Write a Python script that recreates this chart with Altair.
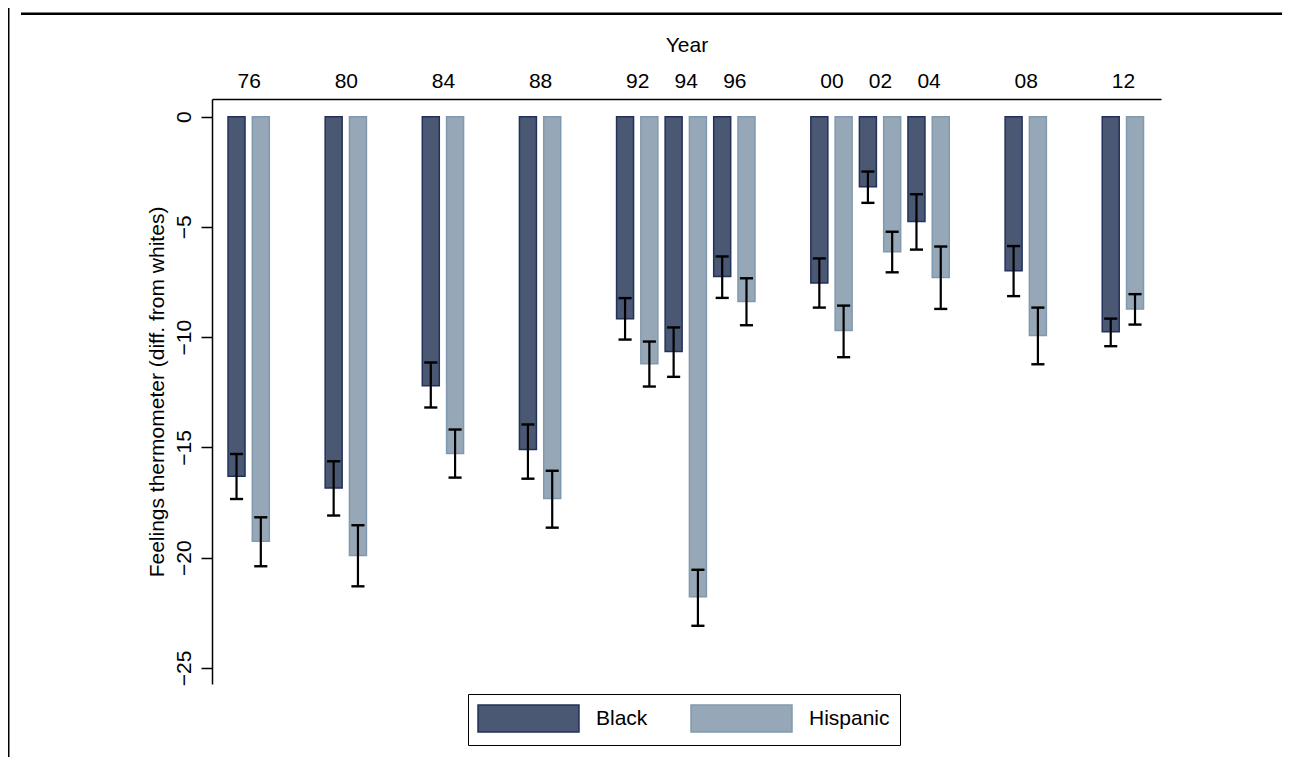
import altair as alt
import pandas as pd

years = [1976, 1980, 1984, 1988, 1992, 1994, 1996, 2000, 2002, 2004, 2008, 2012]
black_mean = [-16.31, -16.84, -12.20, -15.10, -9.17, -10.65, -7.25, -7.54, -3.18, -4.75, -6.99, -9.75]
black_hi = [-15.30, -15.63, -11.15, -13.96, -8.23, -9.56, -6.34, -6.43, -2.49, -3.52, -5.87, -9.16]
black_lo = [-17.34, -18.09, -13.19, -16.42, -10.11, -11.80, -8.22, -8.66, -3.91, -6.03, -8.14, -10.41]
hisp_mean = [-19.26, -19.90, -15.28, -17.32, -11.21, -21.77, -8.38, -9.70, -6.13, -7.30, -9.93, -8.72]
hisp_hi = [-18.17, -18.53, -14.19, -16.06, -10.20, -20.55, -7.33, -8.57, -5.22, -5.89, -8.66, -8.05]
hisp_lo = [-20.39, -21.30, -16.37, -18.64, -12.24, -23.09, -9.46, -10.91, -7.06, -8.72, -11.23, -9.43]
groups = ["Black", "Hispanic"]
y_ticks = [0, -5, -10, -15, -20, -25]

rows = []
for i, yr in enumerate(years):
    rows.append({"year": yr, "group": "Black", "mean": black_mean[i], "lo": black_lo[i], "hi": black_hi[i]})
    rows.append({"year": yr, "group": "Hispanic", "mean": hisp_mean[i], "lo": hisp_lo[i], "hi": hisp_hi[i]})
df = pd.DataFrame(rows)

FONT = "Liberation Sans"
W, H = 949, 585

xscale = alt.Scale(domain=[1974.49, 2013.57], nice=False, zero=False)
yscale = alt.Scale(domain=[-25.73, 0.8], nice=False, zero=False)

base = alt.Chart(df).transform_calculate(
    center="datum.year + (datum.group == 'Black' ? -0.5 : 0.5)"
).transform_calculate(
    xl="datum.center - 0.35", xr="datum.center + 0.35",
    cl="datum.center - 0.27", cr="datum.center + 0.27"
)

legend = alt.Legend(
    title=None, orient="none", legendX=256, legendY=595, direction="horizontal",
    symbolType="M-3.74,-1H3.74V1H-3.74Z", symbolSize=729, symbolStrokeWidth=1.5,
    symbolOffset=36, labelOffset=53, columnPadding=40, padding=10,
    strokeColor="black", fillColor="white", labelFont=FONT, labelFontSize=21,
    labelColor="black", labelBaseline="middle"
)

bars = base.mark_bar(strokeWidth=1.5).encode(
    x=alt.X("xl:Q", scale=xscale, axis=alt.Axis(
        orient="top", values=years, labelExpr="format(datum.value % 100, '02d')",
        title="Year", ticks=False, tickSize=0, grid=False, domainColor="black",
        domainWidth=1.5, labelFont=FONT, labelFontSize=21, labelColor="black",
        labelPadding=11.5, labelBaseline="alphabetic", labelOverlap=False,
        labelFlush=False, titleFont=FONT, titleFontSize=21, titleFontWeight="normal",
        titleColor="black", titleX=474.5, titleY=-48, titleBaseline="alphabetic",
        titleAlign="center")),
    x2="xr:Q",
    y=alt.Y("mean:Q", scale=yscale, axis=alt.Axis(
        values=y_ticks, title="Feelings thermometer (diff. from whites)",
        grid=False, tickSize=11, tickWidth=1.5, tickColor="black",
        domainColor="black", domainWidth=1.5, labelAngle=270, labelAlign="center",
        labelBaseline="alphabetic", labelPadding=11, labelFont=FONT,
        labelFontSize=21, labelColor="black", labelOverlap=False, labelFlush=False,
        titleFont=FONT, titleFontSize=21, titleFontWeight="normal",
        titleColor="black", titleAngle=270, titleX=-49, titleY=292.5,
        titleBaseline="alphabetic", titleAlign="center")),
    y2=alt.datum(0),
    fill=alt.Fill("group:N", scale=alt.Scale(domain=groups, range=["#4a5874", "#96a8b7"]), legend=legend),
    stroke=alt.Stroke("group:N", scale=alt.Scale(domain=groups, range=["#22315a", "#8099ae"]), legend=legend),
)

err = base.mark_rule(color="black", strokeWidth=2.2).encode(
    x="center:Q", y="lo:Q", y2="hi:Q"
)
cap_lo = base.mark_rule(color="black", strokeWidth=2.4).encode(
    x="cl:Q", x2="cr:Q", y="lo:Q"
)
cap_hi = base.mark_rule(color="black", strokeWidth=2.4).encode(
    x="cl:Q", x2="cr:Q", y="hi:Q"
)

deco = pd.DataFrame({"k": [0]})
left_border = alt.Chart(deco).mark_rule(color="black", strokeWidth=2).encode(
    x=alt.value(-203.5), y=alt.value(-91), y2=alt.value(658)
)
top_line = alt.Chart(deco).mark_rule(color="black", strokeWidth=2.6).encode(
    x=alt.value(-191), x2=alt.value(1071), y=alt.value(-85.2)
)

chart = alt.layer(bars, err, cap_lo, cap_hi, left_border, top_line).properties(
    width=W, height=H,
    autosize=alt.AutoSizeParams(type="none"),
    padding={"left": 204, "top": 91, "right": 121, "bottom": 73},
).configure(font=FONT).configure_view(stroke="transparent", strokeWidth=0)

chart.save("out.html", embed_options={"renderer": "svg", "actions": False})
